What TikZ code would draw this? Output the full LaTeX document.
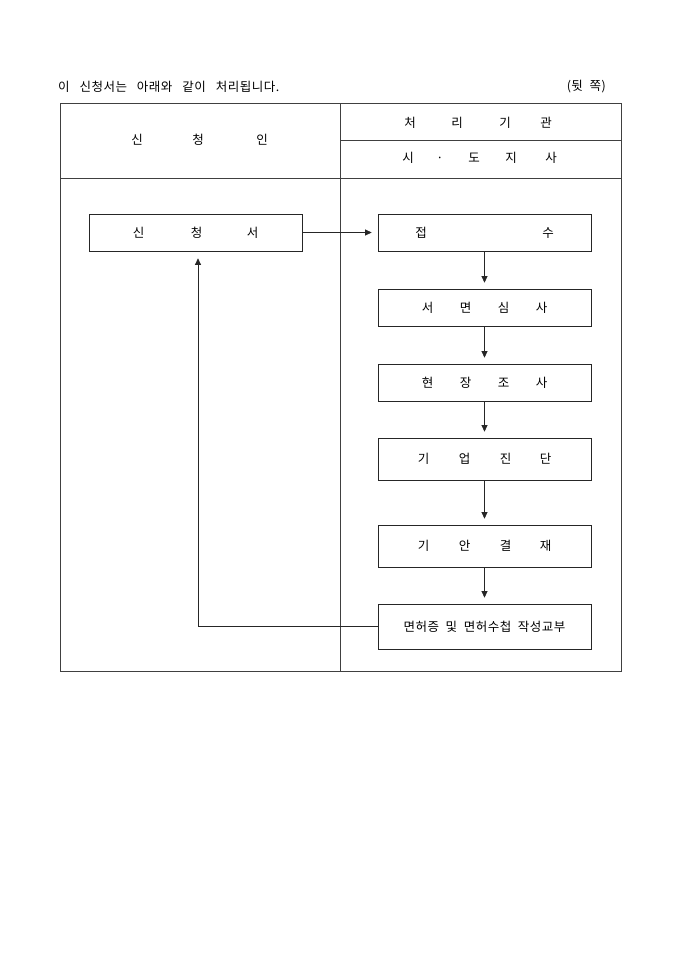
\documentclass[tikz,border=0pt]{standalone}
\usepackage{fontspec}
\setmainfont{Noto Sans CJK KR}[LetterSpace=4,WordSpace=2]
\newfontfamily\titlefont{Noto Sans CJK KR}[LetterSpace=4,WordSpace=3]
\usetikzlibrary{arrows.meta}
\newcommand\zc[1]{\makebox[0pt]{#1}}
\begin{document}
\begin{tikzpicture}[x=1pt,y=-1pt,
  every node/.style={inner sep=0pt, font=\fontsize{12.5}{14}\selectfont},
  tbl/.style={draw=black!75, line width=0.7pt},
  stepbox/.style={draw=black!85, line width=0.7pt, minimum width=213pt, minimum height=37pt},
  arr/.style={draw=black!85, line width=0.7pt, -{Triangle[length=6.5pt,width=6pt]}, shorten >=6pt}]
\useasboundingbox (0,0) rectangle (680,962);
% title
\node[anchor=west, font=\titlefont\fontsize{12.5}{14}\selectfont] (title) at (58,87) {이 신청서는 아래와 같이 처리됩니다.};
\node[anchor=east] (side) at (606,87) {(뒷 쪽)};
% table
\draw[tbl] (60,103) rectangle (621,671);
\draw[tbl] (340,103) -- (340,671);
\draw[tbl] (60,178) -- (621,178);
\draw[tbl] (340,140) -- (621,140);
\node (hA) at (199.5,140) {\zc{신}\hspace{61pt}\zc{청}\hspace{64pt}\zc{인}};
\node (hB) at (478,123) {\zc{처}\hspace{47pt}\zc{리}\hspace{48pt}\zc{기}\hspace{41pt}\zc{관}};
\node (hC) at (479.5,158) {\zc{시}\hspace{32pt}\zc{·}\hspace{34pt}\zc{도}\hspace{37pt}\zc{지}\hspace{40pt}\zc{사}};
% boxes
\node[stepbox] (app) at (195.5,232.5) {\zc{신}\hspace{58pt}\zc{청}\hspace{56pt}\zc{서}};
\node[stepbox] (recv) at (484.5,232.5) {\zc{접}\hspace{127pt}\zc{수}\hspace{16pt}};
\node[stepbox] (doc) at (484.5,307.5) {\zc{서}\hspace{38pt}\zc{면}\hspace{38pt}\zc{심}\hspace{38pt}\zc{사}};
\node[stepbox] (site) at (484.5,382.5) {\zc{현}\hspace{38pt}\zc{장}\hspace{38pt}\zc{조}\hspace{38pt}\zc{사}};
\node[stepbox, minimum height=42pt] (diag) at (484.5,459) {\zc{기}\hspace{41pt}\zc{업}\hspace{41pt}\zc{진}\hspace{40pt}\zc{단}\hspace{9pt}};
\node[stepbox, minimum height=42pt] (appr) at (484.5,546) {\zc{기}\hspace{41pt}\zc{안}\hspace{41pt}\zc{결}\hspace{40pt}\zc{재}\hspace{9pt}};
\node[stepbox, minimum height=45pt] (issue) at (484.5,626.5) {면허증 및 면허수첩 작성교부};
% connectors
\draw[arr] (app) -- (recv);
\draw[arr] (recv) -- (doc);
\draw[arr] (doc) -- (site);
\draw[arr] (site) -- (diag);
\draw[arr] (diag) -- (appr);
\draw[arr] (appr) -- (issue);
\draw[arr, shorten >=7pt] (issue.west) -| ([xshift=2.5pt]app.south);
\end{tikzpicture}
\end{document}
